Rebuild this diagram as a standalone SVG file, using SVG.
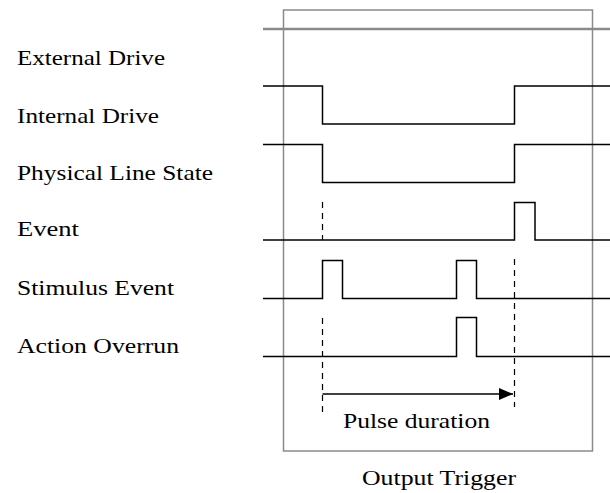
<svg xmlns="http://www.w3.org/2000/svg" width="610" height="493" viewBox="0 0 610 493">
<style>
.lbl{font-family:"Liberation Serif","Times New Roman",serif;font-size:21px;fill:#000}
.sig{fill:none;stroke:#000;stroke-width:1.5}
.dash{fill:none;stroke:#000;stroke-width:1.2;stroke-dasharray:6,5}
</style>
<defs>
<marker id="ah" markerWidth="14" markerHeight="12" refX="14" refY="6" orient="auto" markerUnits="userSpaceOnUse">
<path d="M0,0 L14,6 L0,12 Z" fill="#000"/>
</marker>
</defs>
<rect width="610" height="493" fill="#fff"/>
<g id="frame">
<rect x="283.5" y="10" width="309" height="441" fill="none" stroke="#8a8a8a" stroke-width="1.5"/>
</g>
<g id="external-drive">
<text class="lbl" x="17" y="65" textLength="148" lengthAdjust="spacingAndGlyphs">External Drive</text>
<line x1="263" y1="29" x2="610" y2="29" stroke="#8a8a8a" stroke-width="2.5"/>
</g>
<g id="internal-drive">
<text class="lbl" x="17" y="123" textLength="142" lengthAdjust="spacingAndGlyphs">Internal Drive</text>
<path class="sig" d="M263,86 H322.5 V124 H514.5 V86 H610"/>
</g>
<g id="physical-line-state">
<text class="lbl" x="17" y="180" textLength="196" lengthAdjust="spacingAndGlyphs">Physical Line State</text>
<path class="sig" d="M263,144.5 H322.5 V182.5 H514.5 V144.5 H610"/>
</g>
<g id="event">
<text class="lbl" x="17" y="236" textLength="62" lengthAdjust="spacingAndGlyphs">Event</text>
<path class="sig" d="M263,240 H514.5 V202.5 H535 V240 H610"/>
</g>
<g id="stimulus-event">
<text class="lbl" x="17" y="295" textLength="157" lengthAdjust="spacingAndGlyphs">Stimulus Event</text>
<path class="sig" d="M263,298.5 H322.5 V260.5 H342.5 V298.5 H456.5 V260.5 H476.5 V298.5 H610"/>
</g>
<g id="action-overrun">
<text class="lbl" x="17" y="353" textLength="162" lengthAdjust="spacingAndGlyphs">Action Overrun</text>
<path class="sig" d="M263,356.5 H456.5 V317.5 H476.5 V356.5 H610"/>
</g>
<g id="connectors">
<line class="dash" x1="322.5" y1="202" x2="322.5" y2="240"/>
<line class="dash" x1="322.5" y1="318" x2="322.5" y2="414"/>
<line class="dash" x1="514.5" y1="259" x2="514.5" y2="407"/>
<line x1="322.5" y1="394" x2="513" y2="394" stroke="#000" stroke-width="1.5" marker-end="url(#ah)"/>
</g>
<g id="pulse-duration">
<text class="lbl" x="343" y="428" textLength="147" lengthAdjust="spacingAndGlyphs">Pulse duration</text>
</g>
<g id="output-trigger">
<text class="lbl" x="362" y="485" textLength="154" lengthAdjust="spacingAndGlyphs">Output Trigger</text>
</g>
</svg>
